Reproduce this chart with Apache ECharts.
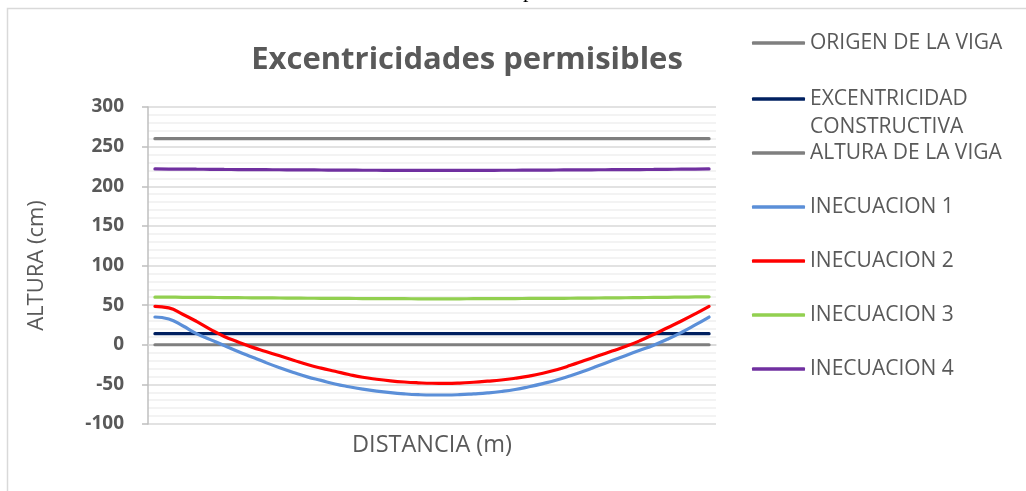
<!DOCTYPE html>
<html>
<head>
<meta charset="utf-8">
<script src="https://cdn.jsdelivr.net/npm/echarts@6/dist/echarts.min.js"></script>
<style>
  html, body { margin: 0; padding: 0; background: #ffffff; }
  #chart { width: 1026px; height: 491px; }
</style>
</head>
<body>
<div id="chart"></div>
<script>
// Distance stations along the beam (category axis, labels hidden)
var distancias = [0,1,2,3,4,5,6,7,8,9,10,11,12,13,14,15,16,17,18,19,20,
                  21,22,23,24,25,26,27,28,29,30,31,32,33,34,35,36,37,38,39,40];

// Heights in cm
var origenViga = [0,0,0,0,0,0,0,0,0,0,0,0,0,0,0,0,0,0,0,0,0,
                  0,0,0,0,0,0,0,0,0,0,0,0,0,0,0,0,0,0,0,0];
var excentricidadConstructiva = [14,14,14,14,14,14,14,14,14,14,14,14,14,14,14,14,14,14,14,14,14,
                                 14,14,14,14,14,14,14,14,14,14,14,14,14,14,14,14,14,14,14,14];
var alturaViga = [260,260,260,260,260,260,260,260,260,260,260,260,260,260,260,260,260,260,260,260,260,
                  260,260,260,260,260,260,260,260,260,260,260,260,260,260,260,260,260,260,260,260];
var inecuacion1 = [35,32.5,24,14,6.5,-1,-8.5,-15.5,-22.5,-29,-35,-40.5,-45,-49.5,-53,-56,-58.5,-60.5,-62,-63,-63.4,
                   -63.4,-63,-62,-60.8,-59,-56.5,-53,-49,-44.5,-39,-33,-26.5,-20,-13.5,-7,-0.5,7,15.5,25,35];
var inecuacion2 = [48.5,46.5,38.5,29.5,19.5,10.5,3.5,-3,-8.5,-14,-19.5,-25,-29.5,-33.5,-37.5,-41,-43.5,-45.5,-47,-48,-48.6,
                   -48.7,-48.3,-47.3,-46,-44.5,-42.3,-39.5,-36,-31.5,-26,-20,-14,-8,-2,5,13,21.5,30,39,48.5];
var inecuacion3 = [60,60,59.9,59.8,59.7,59.5,59.4,59.2,59.1,59,58.8,58.7,58.6,58.5,58.4,58.3,58.2,58.1,58.1,58,58,
                   58,58,58.1,58.1,58.2,58.3,58.4,58.5,58.6,58.7,58.9,59,59.2,59.3,59.5,59.7,59.9,60.1,60.3,60.5];
var inecuacion4 = [221.8,221.7,221.6,221.5,221.4,221.2,221.1,221,220.9,220.8,220.7,220.6,220.5,220.4,220.3,220.2,220.2,220.1,220.1,220,220,
                   220,220,220.1,220.1,220.2,220.2,220.3,220.4,220.5,220.6,220.7,220.8,220.9,221,221.1,221.2,221.4,221.5,221.6,221.8];

// Y axis range / step
var yMin = -100, yMax = 300, yStep = 50;

var FONT = 'Open Sans';
var TXT = '#595959';
var LEG_FS = 21, LEG_LH = 24;

var seriesDefs = [
  { name: 'ORIGEN DE LA VIGA', data: origenViga, color: '#7f7f7f', legendY: 43 },
  { name: 'EXCENTRICIDAD CONSTRUCTIVA', data: excentricidadConstructiva, color: '#002060', legendY: 99, twoLines: true },
  { name: 'ALTURA DE LA VIGA', data: alturaViga, color: '#7f7f7f', legendY: 153 },
  { name: 'INECUACION 1', data: inecuacion1, color: '#5b8fd8', legendY: 207 },
  { name: 'INECUACION 2', data: inecuacion2, color: '#ff0000', legendY: 261 },
  { name: 'INECUACION 3', data: inecuacion3, color: '#92d050', legendY: 315 },
  { name: 'INECUACION 4', data: inecuacion4, color: '#7030a0', legendY: 369 }
];

// one legend block per entry so each row sits at its own height
var legends = seriesDefs.map(function (s) {
  var lg = {
    data: [s.name],
    orient: 'vertical',
    left: 752,
    top: s.legendY - LEG_LH / 2,
    icon: 'roundRect',
    itemWidth: 53,
    itemHeight: 3.5,
    itemGap: 0,
    padding: 0,
    selectedMode: false,
    textStyle: { fontFamily: FONT, fontSize: LEG_FS, color: TXT, lineHeight: LEG_LH }
  };
  if (s.twoLines) {
    // blank first line keeps the first text line level with the icon
    lg.formatter = function () { return ' \nEXCENTRICIDAD\nCONSTRUCTIVA'; };
    lg.textStyle = { fontFamily: FONT, fontSize: LEG_FS, color: TXT, lineHeight: 28 };
    lg.top = s.legendY - 42;
  }
  return lg;
});

var series = seriesDefs.map(function (s) {
  return {
    name: s.name,
    type: 'line',
    data: s.data,
    symbol: 'none',
    smooth: 0.5,
    color: s.color,
    lineStyle: { width: 3.2, color: s.color, cap: 'round' },
    emphasis: { disabled: true },
    animation: false
  };
});

var chart = echarts.init(document.getElementById('chart'), null, { renderer: 'canvas' });
chart.setOption({
  animation: false,
  backgroundColor: '#ffffff',
  title: {
    text: 'Excentricidades permisibles',
    left: 462,
    textAlign: 'center',
    top: 40,
    textStyle: { fontFamily: FONT, fontSize: 31, fontWeight: 'bold', color: TXT }
  },
  legend: legends,
  grid: { left: 148, right: 310, top: 107, bottom: 67, containLabel: false },
  xAxis: {
    type: 'category',
    data: distancias,
    boundaryGap: true,
    name: 'DISTANCIA (m)',
    nameLocation: 'middle',
    nameGap: 9,
    nameTextStyle: { fontFamily: FONT, fontSize: 23.5, color: TXT },
    axisLine: { show: true, lineStyle: { color: '#d9d9d9', width: 1.5 } },
    axisTick: { show: false },
    axisLabel: { show: false }
  },
  yAxis: {
    type: 'value',
    min: yMin,
    max: yMax,
    interval: yStep,
    name: 'ALTURA (cm)',
    nameLocation: 'middle',
    nameGap: 100,
    nameTextStyle: { fontFamily: FONT, fontSize: 22, color: TXT },
    axisLine: { show: true, lineStyle: { color: '#bfbfbf', width: 1.5 } },
    axisTick: { show: true, inside: false, length: 6, lineStyle: { color: '#bfbfbf', width: 1.5 } },
    axisLabel: { fontFamily: FONT, fontSize: 19, fontWeight: 'bold', color: TXT, margin: 24 },
    splitLine: { show: true, lineStyle: { color: '#d9d9d9', width: 1.5 } },
    minorTick: { show: false, splitNumber: 5 },
    minorSplitLine: { show: true, lineStyle: { color: '#efefef', width: 1.5 } }
  },
  series: series,
  graphic: [
    {
      type: 'rect',
      shape: { x: 7.5, y: 8.5, width: 1040, height: 500 },
      style: { fill: 'none', stroke: '#d9d9d9', lineWidth: 1.5 },
      silent: true
    },
    {
      type: 'text',
      left: 523,
      top: -20,
      style: { text: 'p', font: '22px "Liberation Serif"', fill: '#000000' },
      silent: true
    }
  ]
});
</script>
</body>
</html>
